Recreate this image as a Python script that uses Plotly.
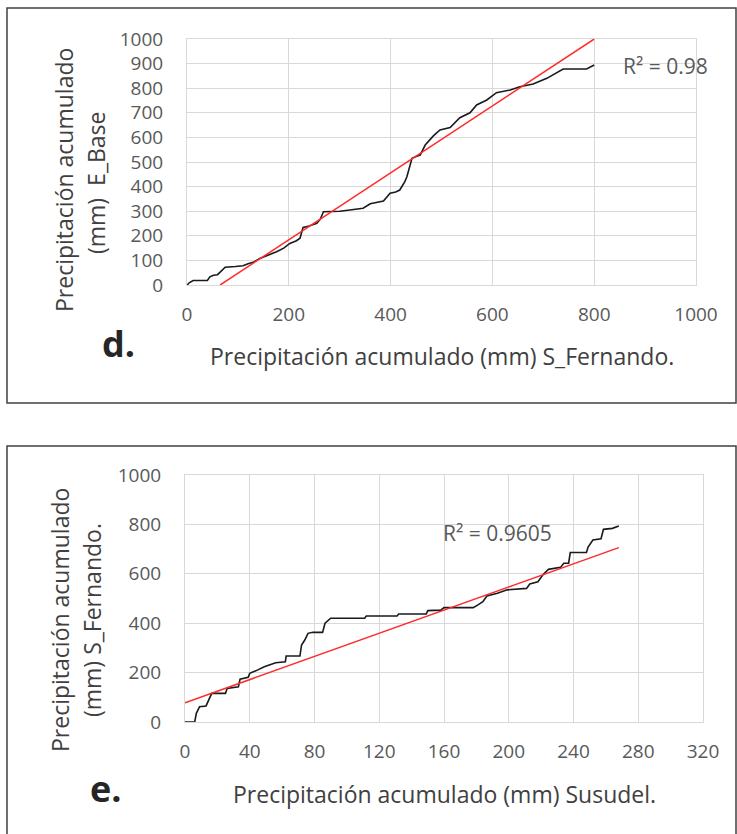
import plotly.graph_objects as go

# ── Canvas ─────────────────────────────────────────────────────────────────────
W, H = 737, 834
FONT = "Open Sans"
TICK = "#595959"
TITLE = "#404040"
GRID = "#d9d9d9"
CURVE = "#1a1a1a"
TREND = "#ff2a2a"

# ── Data: panel d (S_Fernando vs E_Base) ──────────────────────────────────────
d_x = [0, 5, 12, 40, 45, 52, 60, 70, 75, 95, 110, 120, 130, 143, 160, 176, 190,
       202, 215, 222, 228, 240, 255, 262, 268, 300, 320, 346, 360, 370, 386, 399,
       410, 418, 428, 432, 438, 442, 450, 458, 468, 484, 497, 517, 536, 556, 569,
       589, 608, 620, 635, 654, 680, 707, 726, 739, 785, 800]
d_y = [0, 10, 18, 18, 33, 40, 42, 62, 72, 75, 78, 86, 92, 108, 122, 135, 150,
       169, 180, 190, 234, 240, 251, 268, 298, 300, 305, 312, 330, 335, 341, 373,
       378, 386, 420, 440, 481, 515, 522, 528, 569, 606, 630, 640, 680, 700, 732,
       752, 782, 786, 793, 806, 817, 840, 863, 878, 878, 894]
d_trend_x = [65, 800]
d_trend_y = [0, 1000]
d_r2 = "R² = 0.98"

# ── Data: panel e (Susudel vs S_Fernando) ─────────────────────────────────────
e_x = [0, 6, 7, 9, 13, 14, 16.5, 25, 26, 33, 34, 39, 40, 45, 49, 56, 62, 62.5,
       71, 72, 74, 76, 79, 85, 86.5, 90, 111, 112, 131, 132, 149, 150, 158, 160,
       178, 181, 184, 186.5, 193, 199, 211, 213, 218, 221, 224.5, 232, 234, 237,
       238, 248, 249, 252, 257, 258.5, 264, 268]
e_y = [0, 0, 35, 62, 65, 82, 116, 116, 136, 143, 173, 181, 197, 211, 224, 240,
       244, 267, 267, 312, 332, 359, 363, 363, 400, 420, 420, 429, 429, 437, 437,
       451, 453, 463, 463, 474, 487, 510, 521, 535, 541, 559, 568, 595, 618, 626,
       643, 643, 686, 686, 708, 737, 742, 780, 784, 794]
e_trend_x = [0, 268]
e_trend_y = [78, 706]
e_r2 = "R² = 0.9605"


def px(x):
    return x / W


def py(y):
    return 1 - y / H


fig = go.Figure()

fig.add_trace(go.Scatter(x=d_x, y=d_y, mode="lines", xaxis="x", yaxis="y",
                         line=dict(color=CURVE, width=1.6)))
fig.add_trace(go.Scatter(x=d_trend_x, y=d_trend_y, mode="lines", xaxis="x", yaxis="y",
                         line=dict(color=TREND, width=1.5)))
fig.add_trace(go.Scatter(x=e_x, y=e_y, mode="lines", xaxis="x2", yaxis="y2",
                         line=dict(color=CURVE, width=1.6)))
fig.add_trace(go.Scatter(x=e_trend_x, y=e_trend_y, mode="lines", xaxis="x2", yaxis="y2",
                         line=dict(color=TREND, width=1.5)))

# automargin off: the template would otherwise push the margins and shrink everything
AX = dict(showgrid=True, gridcolor=GRID, gridwidth=1, zeroline=False,
          showline=True, linecolor=GRID, linewidth=1, mirror=True, ticks="",
          automargin=False,
          tickfont=dict(family=FONT, size=19, color=TICK), fixedrange=True)

fig.update_layout(
    width=W, height=H, autosize=False,
    margin=dict(l=0, r=0, t=0, b=0, pad=0),
    paper_bgcolor="white", plot_bgcolor="white",
    showlegend=False,
    xaxis=dict(AX, domain=[px(187), px(696)], range=[0, 1000], dtick=200,
               anchor="y", ticklabelstandoff=12),
    yaxis=dict(AX, domain=[py(285), py(39)], range=[0, 1000], dtick=100,
               anchor="x", ticklabelstandoff=19),
    xaxis2=dict(AX, domain=[px(185), px(703)], range=[0, 320], dtick=40,
                anchor="y2", ticklabelstandoff=12),
    yaxis2=dict(AX, domain=[py(722), py(475)], range=[0, 1000], dtick=200,
                anchor="x2", ticklabelstandoff=19),
)

# ── Frames round each panel ───────────────────────────────────────────────────
FRAME = dict(color="#404040", width=1.5)
fig.add_shape(type="rect", xref="paper", yref="paper",
              x0=px(7), x1=px(736), y0=py(403), y1=py(8), line=FRAME)
# lower frame runs off the bottom of the picture: three sides only
fig.add_shape(type="path", xref="paper", yref="paper", line=FRAME,
              path=f"M {px(7)},0 L {px(7)},{py(446)} L {px(736)},{py(446)} L {px(736)},0")


def note(text, x, y, size, color, angle=0, bold=False):
    fig.add_annotation(text=f"<b>{text}</b>" if bold else text,
                       xref="paper", yref="paper", x=px(x), y=py(y),
                       xanchor="center", yanchor="middle",
                       showarrow=False, textangle=angle,
                       font=dict(family=FONT, size=size, color=color))


# axis titles
note("Precipitación acumulado (mm) S_Fernando.", 442, 356, 23, TITLE)
note("Precipitación acumulado (mm) Susudel.", 444, 794, 23, TITLE)
note("Precipitación acumulado", 64, 180, 23, TITLE, angle=-90)
note("(mm)  E_Base", 96, 183, 23, TITLE, angle=-90)
note("Precipitación acumulado", 60, 620, 23, TITLE, angle=-90)
note("(mm) S_Fernando.", 92, 620, 23, TITLE, angle=-90)

# R² labels
note(d_r2, 665, 66, 21, TICK)
note(e_r2, 497, 533, 21, TICK)

# panel letters
note("d.", 118, 343, 36, "#262626", bold=True)
note("e.", 106, 788, 36, "#262626", bold=True)

fig.write_html(
    "out.html",
    config={"displayModeBar": False},
    post_script="document.documentElement.style.margin='0';"
                "document.body.style.margin='0';"
                "document.body.style.padding='0';"
                "document.documentElement.style.overflow='hidden';"
                "document.body.style.overflow='hidden';",
)
